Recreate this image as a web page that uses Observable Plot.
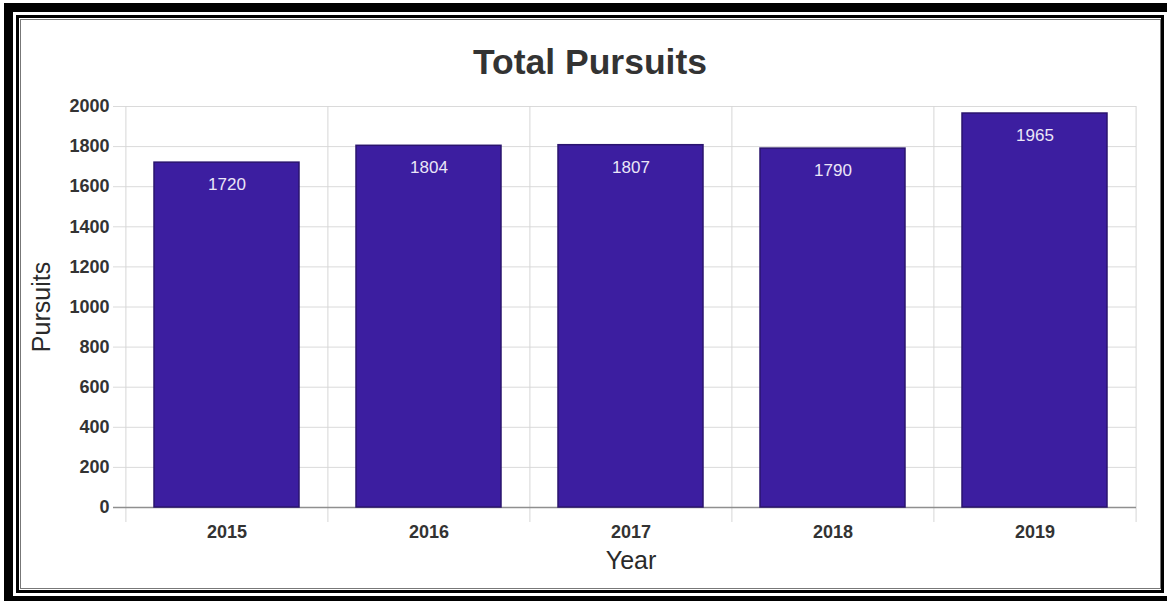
<!DOCTYPE html>
<html>
<head>
<meta charset="utf-8">
<script src="https://cdn.jsdelivr.net/npm/d3@7"></script>
<script src="https://cdn.jsdelivr.net/npm/@observablehq/plot@0.6"></script>
<style>
html, body { margin: 0; padding: 0; background: #fff; overflow: hidden; }
#wrap { position: relative; width: 1167px; height: 601px; overflow: hidden; font-family: "Liberation Sans", Arial, sans-serif; }
#chart { position: absolute; left: 0; top: 0; }
.frame { position: absolute; box-sizing: border-box; pointer-events: none; }
#f1 { left: 4px; top: 3px; width: 1175px; height: 602px; border: 9px solid #000; }
#f2 { left: 16px; top: 15px; width: 1148px; height: 578px; border: 3px solid #000; }
#f3 { left: 20px; top: 19px; width: 1141px; height: 570px; border: 1px solid #777; }
#title { position: absolute; left: 0; top: 45px; width: 1180px; text-align: center; font-weight: bold; font-size: 35.5px; line-height: 35.5px; color: #333; }
</style>
</head>
<body>
<div id="wrap">
  <div id="chart"></div>
  <div id="title">Total Pursuits</div>
  <div class="frame" id="f1"></div>
  <div class="frame" id="f2"></div>
  <div class="frame" id="f3"></div>
</div>
<script>
const years = ["2015", "2016", "2017", "2018", "2019"];
const pursuits = [1720, 1804, 1807, 1790, 1965];
const yTicks = [0, 200, 400, 600, 800, 1000, 1200, 1400, 1600, 1800, 2000];
const xLabel = "Year";
const yLabel = "Pursuits";

const data = years.map((year, i) => ({year, value: pursuits[i]}));

const W = 1167, H = 601, mL = 125, mR = 31, mT = 106, mB = 94;
const step = (W - mL - mR) / years.length;
const font = "Liberation Sans, Arial, sans-serif";

const chart = Plot.plot({
  width: W,
  height: H,
  marginLeft: mL,
  marginRight: mR,
  marginTop: mT,
  marginBottom: mB,
  style: {background: "transparent", fontFamily: font},
  x: {domain: years, paddingInner: 0.28, paddingOuter: 0.14, label: null},
  y: {domain: [0, 2000], label: null},
  marks: [
    Plot.ruleY(yTicks, {y: d => d, stroke: "#dadada", strokeWidth: 1, insetLeft: -12}),
    Plot.ruleX(years, {x: d => d, dx: -step / 2, stroke: "#d6d6d6", strokeWidth: 1, insetBottom: -15}),
    Plot.ruleX(years.slice(-1), {x: d => d, dx: step / 2, stroke: "#d6d6d6", strokeWidth: 1, insetBottom: -15}),
    Plot.ruleY([0], {y: d => d, stroke: "#8f8f8f", strokeWidth: 1.3, insetLeft: -12}),
    Plot.barY(data, {x: "year", y: "value", fill: "#3c1ea0", stroke: "#2a146e", strokeWidth: 1.5}),
    Plot.text(data, {x: "year", y: "value", text: d => String(d.value), dy: 22, fill: "#ebe6f7", fontSize: 17, fontFamily: font}),
    Plot.axisY({ticks: yTicks, tickFormat: d3.format("d"), tickSize: 0, tickPadding: 16, fontSize: 18, fontWeight: "bold", fill: "#333", label: null, fontFamily: font}),
    Plot.axisX({tickSize: 0, tickPadding: 18, fontSize: 18, fontWeight: "bold", fill: "#333", label: null, fontFamily: font}),
    Plot.text([xLabel], {frameAnchor: "bottom", textAnchor: "middle", dy: 61, fontSize: 25, fill: "#2a2a2a", fontFamily: font}),
    Plot.text([yLabel], {frameAnchor: "left", textAnchor: "middle", rotate: -90, dx: -84, fontSize: 25, fill: "#2a2a2a", fontFamily: font})
  ]
});
document.getElementById("chart").appendChild(chart);
</script>
</body>
</html>
